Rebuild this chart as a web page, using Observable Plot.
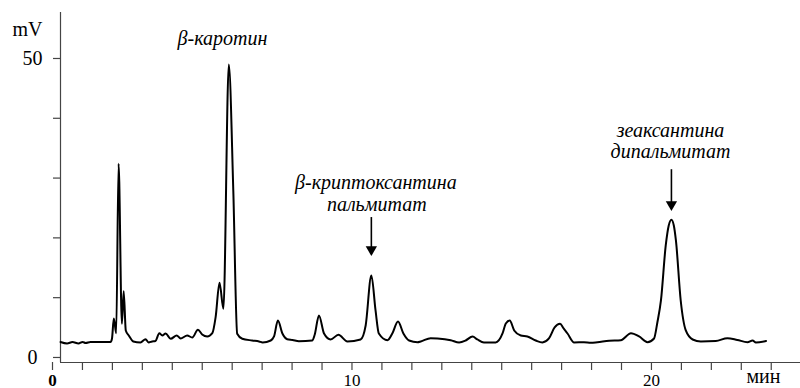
<!DOCTYPE html>
<html>
<head>
<meta charset="utf-8">
<script src="https://cdn.jsdelivr.net/npm/d3@7"></script>
<script src="https://cdn.jsdelivr.net/npm/@observablehq/plot@0.6"></script>
<style>
  html, body { margin: 0; padding: 0; background: #fff; }
</style>
</head>
<body>
<div id="chart"></div>
<script>
// Retention time (min)
const time = [0.00,0.22,0.40,0.60,0.74,0.84,1.00,1.67,1.72,1.78,1.86,1.94,2.05,2.11,2.18,2.28,2.43,2.67,2.84,2.94,3.06,3.17,3.30,3.40,3.51,3.68,3.88,4.01,4.23,4.40,4.59,4.73,4.90,5.07,5.18,5.31,5.44,5.62,5.77,5.90,6.07,6.40,6.63,6.75,7.02,7.13,7.26,7.41,7.57,7.75,7.96,8.41,8.49,8.63,8.80,9.02,9.28,9.58,10.02,10.19,10.38,10.52,10.63,10.92,11.08,11.27,11.45,11.64,11.92,12.03,12.36,12.59,13.03,13.31,13.53,13.76,13.92,14.14,14.53,14.76,14.87,15.00,15.15,15.37,15.59,15.87,16.09,16.31,16.50,16.68,16.80,16.93,17.15,17.48,17.71,17.93,18.32,18.71,19.05,19.32,19.60,19.82,19.93,20.05,20.21,20.31,20.40,20.48,20.55,20.71,20.88,21.11,21.38,21.88,22.27,22.60,22.94,23.11,23.22,23.56];
// Detector signal (mV)
const signal = [2.59,2.34,2.59,2.34,2.59,2.42,2.59,2.59,3.18,6.52,4.06,32.39,5.64,11.09,4.52,3.68,2.68,2.51,3.06,2.51,2.68,2.76,4.06,3.68,4.01,3.13,3.68,3.18,3.68,3.34,4.63,3.85,3.51,4.06,6.74,12.49,8.14,49.0,27.93,3.96,3.13,2.84,2.68,2.51,2.84,3.51,6.19,4.01,3.06,2.93,2.73,2.84,3.85,7.02,4.01,3.01,3.80,2.68,3.01,5.35,13.71,7.86,4.01,2.89,4.01,6.02,4.01,2.84,2.56,2.68,3.23,3.18,2.89,2.51,2.84,3.51,3.01,2.51,2.51,4.01,5.69,6.19,4.52,3.68,3.51,2.84,2.51,3.18,5.02,5.64,4.85,4.01,2.51,2.56,2.46,2.56,2.79,2.89,4.06,3.51,2.56,3.18,5.85,9.53,18.73,22.07,23.03,22.07,19.57,9.53,4.52,3.01,2.68,2.76,3.23,2.93,2.56,2.84,2.51,2.76];

const xTicks = d3.range(0, 25);
const xTickLabels = [10, 20];
const yTicks = [0, 10, 20, 30, 40, 50];
const yTickLabels = [0, 50];

// Peak annotations
const labelText = ["β-каротин", "β-криптоксантина", "пальмитат", "зеаксантина", "дипальмитат"];
const labelTime = [5.41, 10.53, 10.56, 20.37, 20.37];
const labelMV = [53.4, 29.2, 25.65, 38.0, 34.35];

const arrowTime = [10.38, 20.40];
const arrowTop = [23.4, 31.4];
const arrowHead = [18.05, 25.6];

const xDomain = [0, 24.71];
const yDomain = [-0.84, 57.69];

const trace = time.map((t, i) => ({t, v: signal[i]}));
const labels = labelText.map((s, i) => ({s, t: labelTime[i], v: labelMV[i]}));
const arrows = arrowTime.map((t, i) => ({t, y1: arrowTop[i], y2: arrowHead[i]}));

const font = "Liberation Serif";
const axisColor = "#444";

const chart = Plot.plot({
  width: 800,
  height: 388,
  marginLeft: 60,
  marginRight: 0,
  marginTop: 12,
  marginBottom: 26,
  style: {fontFamily: font, fontSize: "20px", background: "#fff", color: "#000", overflow: "visible"},
  x: {domain: xDomain},
  y: {domain: yDomain},
  marks: [
    Plot.ruleY([yDomain[0]], {stroke: axisColor, strokeWidth: 1.2}),
    Plot.ruleX([xDomain[0]], {y1: yDomain[0], y2: yDomain[1], stroke: axisColor, strokeWidth: 1.2}),
    Plot.axisX({ticks: xTicks, tickSize: 8, tickPadding: 3, stroke: axisColor, strokeWidth: 1.2,
      tickFormat: d => xTickLabels.includes(d) ? String(d) : "", dx: -8, fontSize: 17, label: null}),
    Plot.axisX({ticks: [0], tickSize: 0, tickPadding: 11, fontWeight: "bold",
      tickFormat: d => String(d), dx: -8, fontSize: 17, label: null}),
    Plot.axisY({ticks: yTicks, tickSize: 7, tickPadding: 21, textAnchor: "middle", stroke: axisColor, strokeWidth: 1.2,
      tickFormat: d => yTickLabels.includes(d) ? String(d) : "", fontSize: 20, label: null}),
    Plot.text(["mV"], {frameAnchor: "top-left", dx: -33, dy: 9, textAnchor: "middle", fontSize: 20}),
    Plot.text(["мин"], {frameAnchor: "bottom-right", dx: -20, dy: 20, textAnchor: "end", fontSize: 20}),
    Plot.line(trace, {x: "t", y: "v", stroke: "#000", strokeWidth: 2, curve: "monotone-x"}),
    Plot.text(labels, {x: "t", y: "v", text: "s", fontFamily: font, fontStyle: "italic", fontSize: 20, textAnchor: "middle"}),
    Plot.ruleX(arrows, {x: "t", y1: "y1", y2: "y2", stroke: "#000", strokeWidth: 1.6}),
    Plot.dot(arrows, {x: "t", y: "y2", symbol: "triangle", rotate: 180, r: 4.2, fill: "#000", stroke: null})
  ]
});
document.getElementById("chart").appendChild(chart);
</script>
</body>
</html>
